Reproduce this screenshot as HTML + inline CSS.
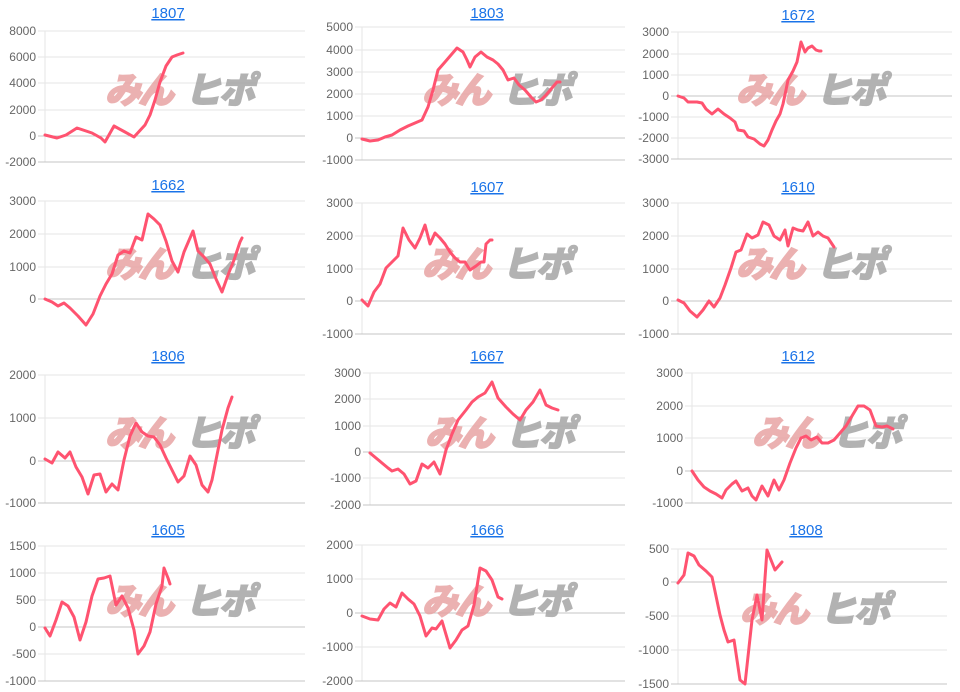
<!DOCTYPE html>
<html><head><meta charset="utf-8"><style>
html,body{margin:0;padding:0;background:#fff;width:960px;height:692px;overflow:hidden}
svg{display:block}
</style></head><body>
<svg id="s" width="960" height="692" xmlns="http://www.w3.org/2000/svg" font-family="Liberation Sans, Noto Sans CJK JP, sans-serif"></svg>
<script>
const C=[
{t:"1807",tx:168,ty:12,x0:45,x1:305,ticks:[[8000,31],[6000,57],[4000,83],[2000,110],[0,136],[-2000,162]],wm:[105,101],
p:[[45,135],[57,138],[66,135],[77,128],[92,133],[101,138],[105,142],[114,126],[125,132],[134,137],[145,125],[150,115],[155,100],[160,82],[166,66],[172,57],[177,55],[183,53]]},
{t:"1803",tx:487,ty:12,x0:362,x1:625,ticks:[[5000,27],[4000,50],[3000,72],[2000,94],[1000,116],[0,138],[-1000,160]],wm:[422,101],
p:[[362,139],[370,141],[378,140],[385,137],[392,135],[400,130],[408,126],[415,123],[422,120],[428,107],[433,90],[438,70],[445,62],[451,55],[457,48],[463,52],[467,60],[470,67],[475,57],[481,52],[487,57],[493,60],[498,64],[503,70],[508,80],[514,78],[519,85],[525,90],[531,97],[536,102],[541,100],[546,95],[552,88],[557,82],[560,82]]},
{t:"1672",tx:798,ty:14,x0:678,x1:952,ticks:[[3000,32],[2000,54],[1000,75],[0,96],[-1000,117],[-2000,138],[-3000,159]],wm:[736,101],
p:[[678,96],[684,98],[688,102],[697,102],[702,103],[706,109],[712,114],[718,109],[724,114],[730,118],[735,122],[738,130],[744,131],[748,137],[754,139],[760,144],[764,146],[768,140],[772,130],[776,121],[780,114],[783,104],[786,90],[788,80],[793,71],[797,62],[801,42],[805,52],[808,48],[812,46],[816,50],[819,51],[821,51]]},
{t:"1662",tx:168,ty:184,x0:45,x1:305,ticks:[[3000,201],[2000,234],[1000,267],[0,299]],wm:[105,275],
p:[[45,299],[52,302],[58,306],[64,303],[70,308],[78,316],[86,325],[93,314],[100,296],[106,284],[112,274],[118,255],[124,251],[130,253],[136,237],[142,240],[148,214],[154,219],[160,225],[166,241],[172,261],[178,272],[184,252],[193,231],[198,251],[204,257],[210,264],[216,279],[222,292],[228,275],[234,260],[240,242],[242,238]]},
{t:"1607",tx:487,ty:186,x0:362,x1:625,ticks:[[3000,203],[2000,236],[1000,269],[0,301],[-1000,334]],wm:[422,275],
p:[[362,300],[368,306],[374,292],[380,284],[386,268],[392,262],[398,256],[403,228],[409,240],[415,248],[420,238],[425,225],[430,244],[435,233],[440,238],[445,244],[450,252],[455,258],[460,262],[465,262],[470,270],[476,266],[481,262],[484,262],[486,244],[490,240],[492,240]]},
{t:"1610",tx:798,ty:186,x0:678,x1:952,ticks:[[3000,203],[2000,236],[1000,269],[0,301],[-1000,334]],wm:[736,275],
p:[[678,300],[684,303],[690,311],[697,317],[703,310],[709,301],[714,307],[720,298],[725,285],[731,268],[736,252],[741,250],[747,234],[752,238],[758,235],[763,222],[769,225],[774,236],[780,240],[785,230],[788,246],[793,228],[798,230],[803,231],[808,222],[813,236],[818,232],[823,236],[828,238],[834,247]]},
{t:"1806",tx:168,ty:355,x0:45,x1:305,ticks:[[2000,375],[1000,418],[0,461],[-1000,503]],wm:[105,444],
p:[[45,459],[52,463],[58,452],[65,458],[70,452],[76,467],[82,477],[88,494],[94,475],[100,474],[106,492],[112,484],[118,490],[124,460],[130,436],[136,423],[142,432],[148,436],[154,437],[160,445],[166,458],[172,470],[178,482],[184,476],[190,456],[196,465],[202,485],[208,492],[212,480],[216,460],[222,430],[228,408],[232,397]]},
{t:"1667",tx:487,ty:355,x0:370,x1:625,ticks:[[3000,373],[2000,399],[1000,426],[0,452],[-1000,478],[-2000,505]],wm:[425,444],
p:[[370,453],[376,458],[382,463],[388,468],[392,471],[398,469],[404,474],[410,484],[416,481],[422,464],[428,468],[434,462],[440,474],[446,450],[452,434],[458,420],[466,410],[472,402],[478,397],[485,393],[492,382],[498,398],[506,407],[513,414],[520,420],[526,410],[533,402],[540,390],[546,405],[552,408],[558,410]]},
{t:"1612",tx:798,ty:355,x0:692,x1:952,ticks:[[3000,373],[2000,406],[1000,438],[0,471],[-1000,503]],wm:[752,444],
p:[[692,471],[698,480],[704,487],[710,491],[716,494],[722,498],[726,490],[732,484],[736,481],[742,491],[748,488],[752,496],[756,500],[762,486],[768,496],[774,480],[779,490],[784,480],[790,463],[796,448],[801,438],[806,436],[811,440],[817,437],[822,443],[828,443],[834,440],[840,433],[846,426],[852,416],[858,406],[864,406],[870,410],[876,426],[882,427],[887,426],[893,429]]},
{t:"1605",tx:168,ty:529,x0:45,x1:305,ticks:[[1500,546],[1000,573],[500,600],[0,627],[-500,654],[-1000,681]],wm:[105,612],
p:[[45,628],[50,636],[56,620],[62,602],[68,606],[74,617],[80,640],[86,622],[92,596],[98,579],[104,578],[110,576],[116,605],[122,596],[128,608],[134,630],[138,654],[144,646],[150,632],[156,604],[162,586],[164,568],[168,578],[170,584]]},
{t:"1666",tx:487,ty:529,x0:362,x1:625,ticks:[[2000,545],[1000,579],[0,613],[-1000,647],[-2000,681]],wm:[422,612],
p:[[362,616],[370,619],[378,620],[384,609],[390,603],[396,607],[402,593],[408,599],[414,604],[420,616],[426,636],[432,628],[436,629],[442,621],[450,648],[456,640],[462,630],[468,626],[474,605],[480,568],[486,571],[492,580],[498,597],[502,599]]},
{t:"1808",tx:806,ty:529,x0:678,x1:947,ticks:[[500,549],[0,582],[-500,616],[-1000,650],[-1500,684]],wm:[740,620],
p:[[678,583],[684,575],[688,553],[694,556],[699,565],[706,571],[712,577],[720,615],[724,630],[728,642],[734,640],[740,680],[745,684],[752,620],[757,595],[762,620],[767,550],[775,570],[782,562]]}
];
let h="";
for(const c of C){
  const top=c.ticks[0][1], bot=c.ticks[c.ticks.length-1][1];
  h+=`<line x1="${c.x0}" y1="${top}" x2="${c.x0}" y2="${bot}" stroke="#e6e6e6"/>`;
  for(const [v,y] of c.ticks){
    const z=(v===0||y===bot);
    h+=`<line x1="${c.x0-7}" y1="${y}" x2="${c.x1}" y2="${y}" stroke="${z?'#c4c4c4':'#e6e6e6'}" stroke-width="1"/>`;
    h+=`<text x="${c.x0-9}" y="${y+4}" font-size="12" fill="#666" text-anchor="end">${v}</text>`;
  }
  h+=`<text x="${c.wm[0]}" y="${c.wm[1]+2}" font-size="36" font-weight="900" font-style="italic" fill="#e8a4a4" opacity="0.85" font-family="Noto Sans CJK JP, sans-serif" stroke="#e8a4a4" stroke-width="1.5" letter-spacing="-3">みん</text>`;
  h+=`<text x="${c.wm[0]+80}" y="${c.wm[1]+2}" font-size="36" font-weight="900" font-style="italic" fill="#aaaaaa" opacity="0.9" font-family="Noto Sans CJK JP, sans-serif" stroke="#aaaaaa" stroke-width="1.5" letter-spacing="-2">ヒポ</text>`;
  h+=`<polyline points="${c.p.map(q=>q.join(',')).join(' ')}" fill="none" stroke="#ff5370" stroke-width="3" stroke-linejoin="round" stroke-linecap="round"/>`;
  h+=`<text x="${c.tx}" y="${c.ty+6}" font-size="15" fill="#1a73e8" text-anchor="middle" text-decoration="underline">${c.t}</text>`;
}
document.getElementById("s").innerHTML=h;
</script>
</body></html>
